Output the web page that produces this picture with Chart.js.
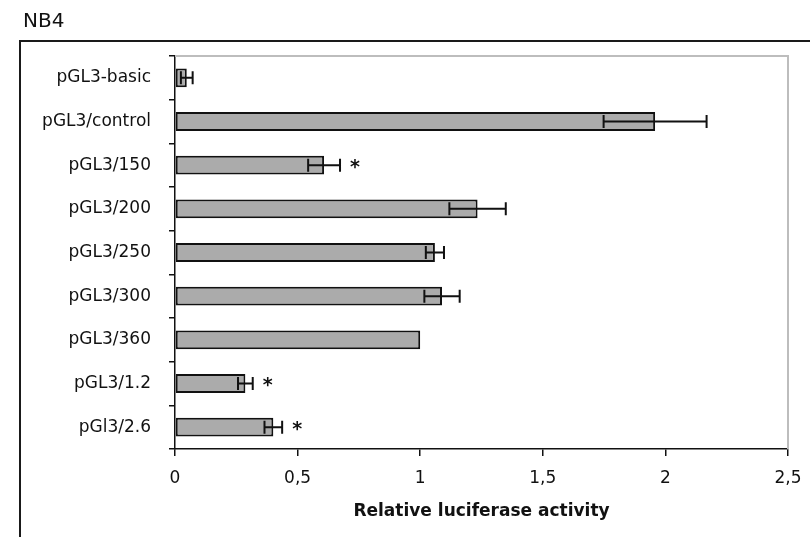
<!DOCTYPE html>
<html>
<head>
<meta charset="utf-8">
<script src="https://cdn.jsdelivr.net/npm/chart.js@4.4.0/dist/chart.umd.min.js"></script>
<style>
  body { margin: 0; background: #fff; }
</style>
</head>
<body>
<canvas id="chart" width="810" height="537"></canvas>
<script>
// data
var constructs = ["pGL3-basic", "pGL3/control", "pGL3/150", "pGL3/200", "pGL3/250", "pGL3/300", "pGL3/360", "pGL3/1.2", "pGl3/2.6"];
var activity = [0.048, 1.958, 0.608, 1.234, 1.06, 1.089, 1.0, 0.287, 0.401];
var errors = [0.024, 0.21, 0.065, 0.115, 0.037, 0.072, 0, 0.03, 0.036];
var significant = [false, false, true, false, false, false, false, true, true];
var xTicks = ["0", "0,5", "1", "1,5", "2", "2,5"];

var FONT = "'DejaVu Sans', Verdana, sans-serif";

// outer frame + grey plot border
var framePlugin = {
  id: "frame",
  beforeDraw: function (chart) {
    var c = chart.ctx;
    c.save();
    c.strokeStyle = "#1a1a1a";
    c.lineWidth = 2;
    c.strokeRect(20, 41, chart.width + 20, chart.height + 20);
    c.restore();
  },
  beforeDatasetsDraw: function (chart) {
    var a = chart.chartArea;
    var c = chart.ctx;
    c.save();
    c.strokeStyle = "#bdbdbd";
    c.lineWidth = 2;
    c.beginPath();
    c.moveTo(a.left, a.top);
    c.lineTo(a.right, a.top);
    c.lineTo(a.right, a.bottom);
    c.stroke();
    c.restore();
  }
};

// error bars and stars
var errorBarPlugin = {
  id: "errorBars",
  afterDatasetsDraw: function (chart) {
    var c = chart.ctx;
    var x = chart.scales.x;
    var meta = chart.getDatasetMeta(0);
    c.save();
    c.strokeStyle = "#111";
    c.lineWidth = 2;
    meta.data.forEach(function (bar, i) {
      var v = activity[i], e = errors[i];
      var hi = x.getPixelForValue(v + e);
      if (e > 0) {
        var lo = x.getPixelForValue(v - e);
        var cap = 6.5;
        c.beginPath();
        c.moveTo(lo, bar.y);
        c.lineTo(hi, bar.y);
        c.moveTo(lo, bar.y - cap);
        c.lineTo(lo, bar.y + cap);
        c.moveTo(hi, bar.y - cap);
        c.lineTo(hi, bar.y + cap);
        c.stroke();
      }
      if (significant[i]) {
        c.fillStyle = "#111";
        c.font = "bold 19px " + FONT;
        c.textAlign = "center";
        c.textBaseline = "middle";
        c.fillText("*", hi + 15, bar.y + 3);
      }
    });
    c.restore();
  }
};

var ctx = document.getElementById("chart").getContext("2d");
var chart = new Chart(ctx, {
  type: "bar",
  data: {
    labels: constructs,
    datasets: [{
      data: activity,
      backgroundColor: "#ababab",
      borderColor: "#111",
      borderWidth: 2,
      borderSkipped: false,
      categoryPercentage: 1,
      barPercentage: 0.43
    }]
  },
  options: {
    indexAxis: "y",
    responsive: false,
    animation: false,
    layout: { padding: { left: 23, right: 22, top: 0, bottom: 0 } },
    plugins: {
      legend: { display: false },
      tooltip: { enabled: false },
      title: {
        display: true,
        text: "NB4",
        align: "start",
        color: "#111",
        font: { family: FONT, size: 20, weight: "normal" },
        padding: { top: 10, bottom: 22 }
      }
    },
    scales: {
      x: {
        min: 0,
        max: 2.5,
        afterFit: function (s) {
          s.height = 88;
          s.paddingLeft = 0;
          s.paddingRight = 0;
        },
        border: { color: "#111", width: 1.5 },
        grid: { drawOnChartArea: false, drawTicks: true, tickLength: 7, color: "#111", lineWidth: 1.5 },
        ticks: {
          stepSize: 0.5,
          color: "#111",
          padding: 12,
          font: { family: FONT, size: 17 },
          callback: function (v, i) { return xTicks[i]; }
        },
        title: {
          display: true,
          text: "Relative luciferase activity",
          color: "#111",
          font: { family: FONT, size: 17, weight: "bold" },
          padding: { top: 0, bottom: 15 }
        }
      },
      y: {
        afterFit: function (s) { s.width = 152; },
        border: { color: "#111", width: 1.5 },
        grid: { offset: true, drawOnChartArea: false, drawTicks: true, tickLength: 6, color: "#111", lineWidth: 1.5 },
        ticks: {
          color: "#111",
          padding: 18,
          font: { family: FONT, size: 17 }
        }
      }
    }
  },
  plugins: [framePlugin, errorBarPlugin]
});
</script>
</body>
</html>
